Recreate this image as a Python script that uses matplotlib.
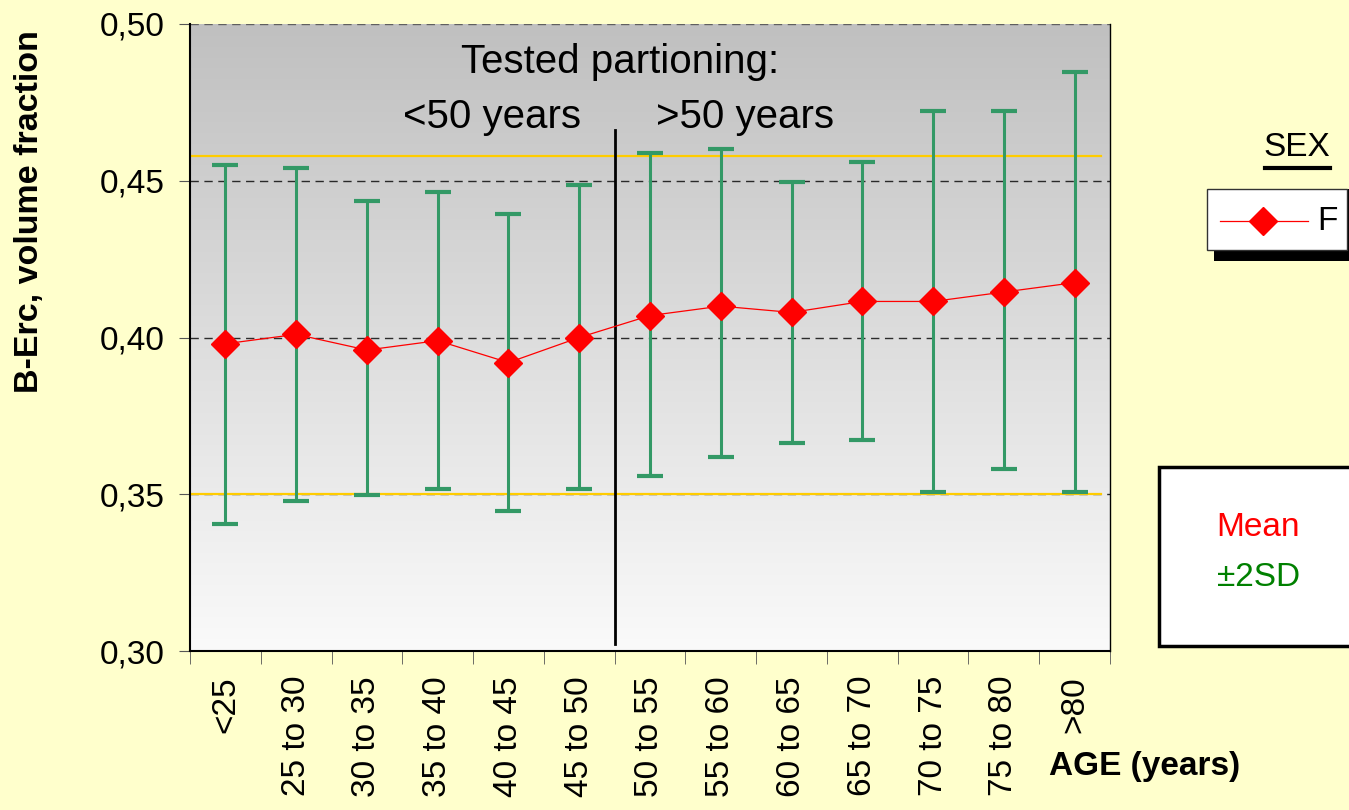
import numpy as np
import matplotlib
matplotlib.use("Agg")
import matplotlib.pyplot as plt
from matplotlib.colors import LinearSegmentedColormap
from matplotlib.patches import Rectangle
from matplotlib.lines import Line2D

plt.rcParams['font.family'] = ['Liberation Sans', 'DejaVu Sans']

# data
age_groups = ["<25", "25 to 30", "30 to 35", "35 to 40", "40 to 45", "45 to 50",
              "50 to 55", "55 to 60", "60 to 65", "65 to 70", "70 to 75", "75 to 80", ">80"]
mean_vals = [0.398, 0.401, 0.396, 0.399, 0.392, 0.400,
             0.407, 0.410, 0.408, 0.4115, 0.4115, 0.4145, 0.4175]
upper_2sd = [0.455, 0.454, 0.4435, 0.4465, 0.4395, 0.4487,
             0.459, 0.460, 0.4497, 0.456, 0.4723, 0.4723, 0.4847]
lower_2sd = [0.3404, 0.3477, 0.3497, 0.3518, 0.3446, 0.3518,
             0.3558, 0.362, 0.3662, 0.3672, 0.3507, 0.358, 0.3507]
ref_limits = [0.458, 0.350]
yticks = [0.30, 0.35, 0.40, 0.45, 0.50]
ytick_labels = ["0,30", "0,35", "0,40", "0,45", "0,50"]
split_at = 5.5

BG = "#FFFFCC"
GREEN = "#339966"
FS = 24

fig = plt.figure(figsize=(13.49, 8.10), dpi=100, facecolor=BG)
ax = fig.add_axes([190 / 1349, 1 - 651 / 810, 920 / 1349, 627 / 810])

x = np.arange(len(age_groups))
mean = np.array(mean_vals)
lo = mean - np.array(lower_2sd)
hi = np.array(upper_2sd) - mean

# grey gradient plot area
cmap = LinearSegmentedColormap.from_list("bg", ["#FAFAFA", "#C0C0C0"])
ax.imshow(np.linspace(0, 1, 256)[:, None], extent=[-0.5, 12.5, 0.30, 0.50],
          aspect="auto", cmap=cmap, origin="lower", zorder=0)

for yv in yticks[1:]:
    ax.axhline(yv, color="black", lw=1, ls=(0, (6, 4)), zorder=1,
               alpha=0.8 if yv < 0.5 else 0.5)
for yv in ref_limits:
    ax.axhline(yv, xmin=0, xmax=0.99, color="#FFCC00", lw=1.6, zorder=2)

ax.plot([split_at, split_at], [0.3022, 0.4662], color="black", lw=2, zorder=3)

ax.errorbar(x, mean, yerr=[lo, hi], fmt="none", ecolor=GREEN, elinewidth=2.2,
            capsize=9.5, capthick=3, zorder=4)
ax.plot(x, mean, color="red", lw=0.9, marker="D", markersize=14,
        markerfacecolor="red", markeredgecolor="red", zorder=5)

ax.text(5.57, 0.4879, "Tested partioning:", fontsize=29, ha="center", va="center")
ax.text(3.77, 0.4704, "<50 years", fontsize=29, ha="center", va="center")
ax.text(7.34, 0.4704, ">50 years", fontsize=29, ha="center", va="center")

ax.set_xlim(-0.5, 12.5)
ax.set_ylim(0.30, 0.50)
ax.set_yticks(yticks)
ax.set_yticklabels(ytick_labels, fontsize=FS)
ax.set_xticks(x)
ax.set_xticklabels(age_groups, rotation=90, fontsize=FS, va="top")
ax.set_xticks(np.arange(-0.5, 13, 1), minor=True)
ax.tick_params(axis="x", which="major", length=0, pad=18)
ax.tick_params(axis="x", which="minor", length=9, color="#555555", direction="out")
ax.tick_params(axis="y", length=8, color="#555555", direction="out", pad=10)

ax.spines["top"].set_visible(False)
ax.spines["left"].set_linewidth(1.5)
ax.spines["bottom"].set_linewidth(1.5)
ax.spines["right"].set_linewidth(1.0)

fig.text(30 / 1349, 1 - 212 / 810, "B-Erc, volume fraction", fontsize=24.5,
         fontweight="bold", rotation=90, ha="center", va="center")
fig.text(1145 / 1349, 1 - 767 / 810, "AGE (years)", fontsize=FS, fontweight="bold",
         ha="center", va="center")

# legend (SEX) drawn by hand
fig.text(1297 / 1349, 1 - 148 / 810, "SEX", fontsize=FS, ha="center", va="center")
fig.add_artist(Line2D([1265 / 1349, 1330 / 1349], [1 - 168 / 810, 1 - 168 / 810],
                      color="black", lw=3, transform=fig.transFigure))
fig.add_artist(Rectangle((1214 / 1349, 1 - 261 / 810), 140 / 1349, 72 / 810,
                         transform=fig.transFigure, facecolor="black", edgecolor="none"))
fig.add_artist(Rectangle((1207 / 1349, 1 - 250 / 810), 140 / 1349, 61 / 810,
                         transform=fig.transFigure, facecolor="white",
                         edgecolor="#333333", lw=1))
fig.add_artist(Line2D([1220 / 1349, 1308 / 1349], [1 - 221 / 810, 1 - 221 / 810],
                      color="red", lw=0.9, transform=fig.transFigure))
fig.add_artist(Line2D([1263 / 1349], [1 - 221 / 810], color="red", marker="D",
                      markersize=14, transform=fig.transFigure))
fig.text(1327 / 1349, 1 - 221 / 810, "F", fontsize=FS, ha="center", va="center")

# Mean / 2SD box
fig.add_artist(Rectangle((1159 / 1349, 1 - 646 / 810), 200 / 1349, 179 / 810,
                         transform=fig.transFigure, facecolor="white",
                         edgecolor="black", lw=2.5))
fig.text(1258 / 1349, 1 - 528 / 810, "Mean", fontsize=FS, color="red",
         ha="center", va="center")
fig.text(1259 / 1349, 1 - 578 / 810, "\u00b12SD", fontsize=FS, color="green",
         ha="center", va="center")

fig.savefig("out.png", dpi=100, facecolor=BG)
